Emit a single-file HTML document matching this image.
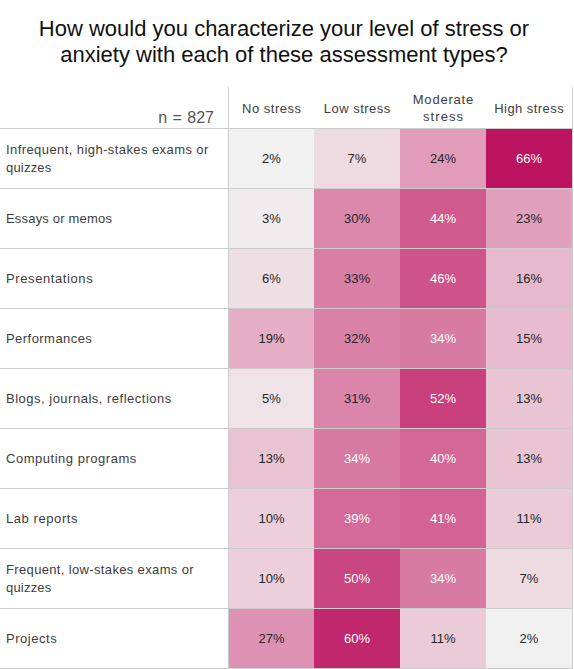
<!DOCTYPE html>
<html><head><meta charset="utf-8"><style>
html,body{margin:0;padding:0;background:#fff;}
body{width:574px;height:669px;position:relative;overflow:hidden;font-family:"Liberation Sans",sans-serif;}
.t{position:absolute;left:0;width:568px;text-align:center;font-size:22px;color:#111;white-space:nowrap;line-height:26px;}
.h{position:absolute;background:#cccccc;height:1px;}
.v{position:absolute;background:#cccccc;width:1px;}
.c{position:absolute;height:59px;display:flex;align-items:center;justify-content:center;font-size:13px;}
.lab{position:absolute;left:6px;width:220px;height:59px;display:flex;flex-direction:column;justify-content:center;font-size:13px;color:#3d3d3d;line-height:18px;white-space:nowrap;}
.ch{position:absolute;top:88px;height:41px;display:flex;flex-direction:column;align-items:center;justify-content:center;text-align:center;font-size:13px;color:#3d3d3d;line-height:16px;white-space:nowrap;}
</style></head><body>
<div class="t" style="top:16px">How would you characterize your level of stress or</div>
<div class="t" style="top:42px">anxiety with each of these assessment types?</div>
<div style="position:absolute;right:360px;top:108px;font-size:16px;word-spacing:1px;color:#555;line-height:20px;">n = 827</div>
<div class="ch" style="left:229px;width:85px"><div style="letter-spacing:0.5px;margin-right:-0.5px">No stress</div></div>
<div class="ch" style="left:314px;width:86px"><div style="letter-spacing:0.49px;margin-right:-0.49px">Low stress</div></div>
<div class="ch" style="left:400px;width:86px;top:87px;line-height:17px"><div style="letter-spacing:0.8px;margin-right:-0.8px">Moderate</div><div style="letter-spacing:1.1px;margin-right:-1.1px">stress</div></div>
<div class="ch" style="left:486px;width:86px"><div style="letter-spacing:0.45px;margin-right:-0.45px">High stress</div></div>
<div class="lab" style="top:129px"><div style="letter-spacing:0.42px">Infrequent, high-stakes exams or</div><div style="letter-spacing:0.2px">quizzes</div></div>
<div class="c" style="left:229px;width:85px;top:129px;background:#f1f1f1;color:#262626">2%</div>
<div class="c" style="left:314px;width:86px;top:129px;background:#eedbe2;color:#262626">7%</div>
<div class="c" style="left:400px;width:86px;top:129px;background:#e19cba;color:#262626">24%</div>
<div class="c" style="left:486px;width:86px;top:129px;background:#bc1460;color:#fff">66%</div>
<div class="lab" style="top:189px"><div style="letter-spacing:0.19px">Essays or memos</div></div>
<div class="c" style="left:229px;width:85px;top:189px;background:#f0ecee;color:#262626">3%</div>
<div class="c" style="left:314px;width:86px;top:189px;background:#dc88ac;color:#262626">30%</div>
<div class="c" style="left:400px;width:86px;top:189px;background:#d05a8e;color:#fff">44%</div>
<div class="c" style="left:486px;width:86px;top:189px;background:#e1a0bc;color:#262626">23%</div>
<div class="lab" style="top:249px"><div style="letter-spacing:0.6px">Presentations</div></div>
<div class="c" style="left:229px;width:85px;top:249px;background:#eedfe5;color:#262626">6%</div>
<div class="c" style="left:314px;width:86px;top:249px;background:#d97ea5;color:#262626">33%</div>
<div class="c" style="left:400px;width:86px;top:249px;background:#ce538a;color:#fff">46%</div>
<div class="c" style="left:486px;width:86px;top:249px;background:#e7b9cc;color:#262626">16%</div>
<div class="lab" style="top:309px"><div style="letter-spacing:0.45px">Performances</div></div>
<div class="c" style="left:229px;width:85px;top:309px;background:#e5aec5;color:#262626">19%</div>
<div class="c" style="left:314px;width:86px;top:309px;background:#da81a8;color:#262626">32%</div>
<div class="c" style="left:400px;width:86px;top:309px;background:#d87ba3;color:#fff">34%</div>
<div class="c" style="left:486px;width:86px;top:309px;background:#e8bcce;color:#262626">15%</div>
<div class="lab" style="top:369px"><div style="letter-spacing:0.5px">Blogs, journals, reflections</div></div>
<div class="c" style="left:229px;width:85px;top:369px;background:#efe3e8;color:#262626">5%</div>
<div class="c" style="left:314px;width:86px;top:369px;background:#db85aa;color:#262626">31%</div>
<div class="c" style="left:400px;width:86px;top:369px;background:#c9407d;color:#fff">52%</div>
<div class="c" style="left:486px;width:86px;top:369px;background:#e9c4d3;color:#262626">13%</div>
<div class="lab" style="top:429px"><div style="letter-spacing:0.52px">Computing programs</div></div>
<div class="c" style="left:229px;width:85px;top:429px;background:#e9c4d3;color:#262626">13%</div>
<div class="c" style="left:314px;width:86px;top:429px;background:#d87ba3;color:#fff">34%</div>
<div class="c" style="left:400px;width:86px;top:429px;background:#d36796;color:#fff">40%</div>
<div class="c" style="left:486px;width:86px;top:429px;background:#e9c4d3;color:#262626">13%</div>
<div class="lab" style="top:489px"><div style="letter-spacing:0.57px">Lab reports</div></div>
<div class="c" style="left:229px;width:85px;top:489px;background:#eccfdb;color:#262626">10%</div>
<div class="c" style="left:314px;width:86px;top:489px;background:#d46a98;color:#fff">39%</div>
<div class="c" style="left:400px;width:86px;top:489px;background:#d26394;color:#fff">41%</div>
<div class="c" style="left:486px;width:86px;top:489px;background:#ebcbd8;color:#262626">11%</div>
<div class="lab" style="top:549px"><div style="letter-spacing:0.35px">Frequent, low-stakes exams or</div><div style="letter-spacing:0.2px">quizzes</div></div>
<div class="c" style="left:229px;width:85px;top:549px;background:#eccfdb;color:#262626">10%</div>
<div class="c" style="left:314px;width:86px;top:549px;background:#ca4681;color:#fff">50%</div>
<div class="c" style="left:400px;width:86px;top:549px;background:#d87ba3;color:#fff">34%</div>
<div class="c" style="left:486px;width:86px;top:549px;background:#eedbe2;color:#262626">7%</div>
<div class="lab" style="top:609px"><div style="letter-spacing:0.53px">Projects</div></div>
<div class="c" style="left:229px;width:85px;top:609px;background:#de92b3;color:#262626">27%</div>
<div class="c" style="left:314px;width:86px;top:609px;background:#c1276c;color:#fff">60%</div>
<div class="c" style="left:400px;width:86px;top:609px;background:#ebcbd8;color:#262626">11%</div>
<div class="c" style="left:486px;width:86px;top:609px;background:#f1f1f1;color:#262626">2%</div>
<div class="h" style="left:0;width:573px;top:128px"></div>
<div class="h" style="left:0;width:573px;top:188px"></div>
<div class="h" style="left:0;width:573px;top:248px"></div>
<div class="h" style="left:0;width:573px;top:308px"></div>
<div class="h" style="left:0;width:573px;top:368px"></div>
<div class="h" style="left:0;width:573px;top:428px"></div>
<div class="h" style="left:0;width:573px;top:488px"></div>
<div class="h" style="left:0;width:573px;top:548px"></div>
<div class="h" style="left:0;width:573px;top:608px"></div>
<div class="h" style="left:0;width:573px;top:668px"></div>
<div class="v" style="left:228px;top:87px;height:582px"></div>
<div class="v" style="left:572px;top:87px;height:582px"></div>
</body></html>
